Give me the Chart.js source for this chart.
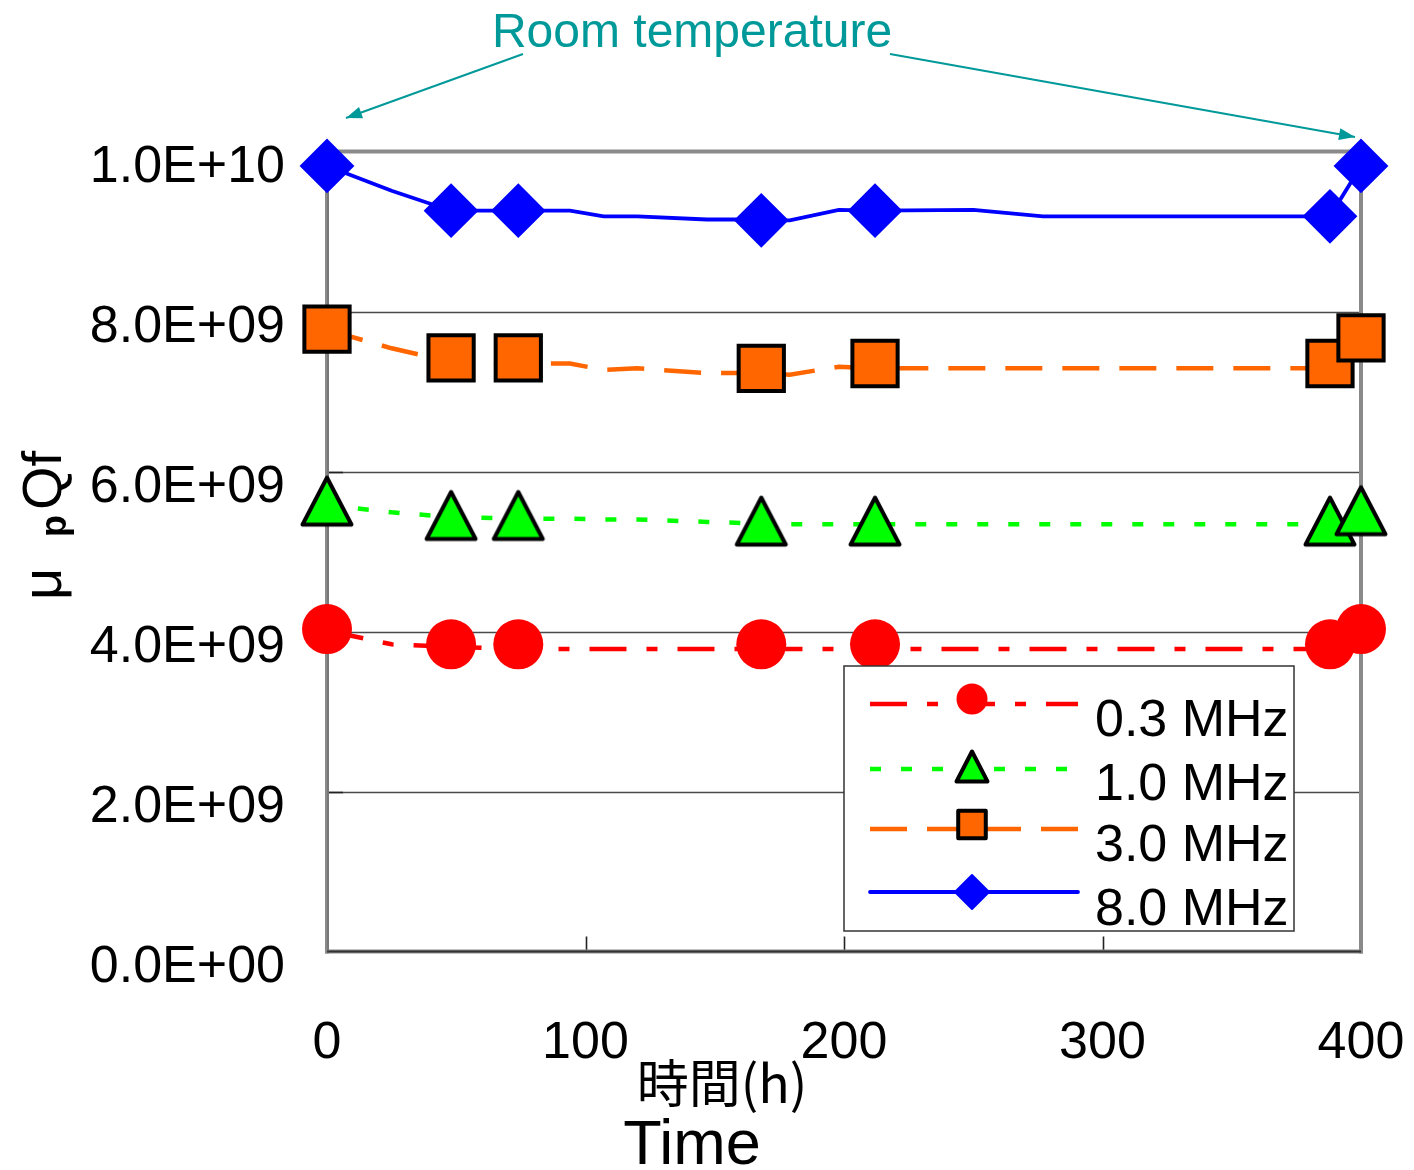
<!DOCTYPE html>
<html lang="ja">
<head>
<meta charset="utf-8">
<title>μpQf – Time</title>
<script src="https://cdn.jsdelivr.net/npm/chart.js@4.4.1/dist/chart.umd.min.js"></script>
<style>
  html, body { margin: 0; padding: 0; background: #ffffff; }
  #chart { display: block; }
</style>
</head>
<body>
<canvas id="chart" width="1414" height="1170"></canvas>
<script>
// ---------------- data ----------------
const seriesLabels = ['0.3 MHz', '1.0 MHz', '3.0 MHz', '8.0 MHz'];

// hours where the connecting lines bend
const lineHours = [0, 25, 48, 73, 94, 107, 120, 147, 158, 168, 179, 198, 212, 250, 277, 388, 400];
// line values, units of 1e9
const line03 = [4.01, 3.84, 3.81, 3.78, 3.78, 3.78, 3.78, 3.78, 3.78, 3.78, 3.78, 3.78, 3.78, 3.78, 3.78, 3.78, 4.01];
const line10 = [5.58, 5.49, 5.43, 5.41, 5.41, 5.40, 5.40, 5.37, 5.36, 5.34, 5.34, 5.34, 5.34, 5.34, 5.34, 5.34, 5.51];
const line30 = [7.77, 7.54, 7.37, 7.35, 7.35, 7.27, 7.29, 7.23, 7.23, 7.23, 7.21, 7.31, 7.29, 7.29, 7.29, 7.29, 7.64];
const line80 = [9.82, 9.51, 9.26, 9.26, 9.26, 9.19, 9.19, 9.15, 9.15, 9.14, 9.14, 9.27, 9.26, 9.27, 9.19, 9.19, 9.82];

// measured points drawn with markers, units of 1e9
const markerHours = [0, 48, 74, 168, 212, 388, 400];
const mark03 = [4.03, 3.84, 3.84, 3.84, 3.84, 3.84, 4.03];
const mark10 = [5.63, 5.45, 5.45, 5.38, 5.38, 5.38, 5.51];
const mark30 = [7.78, 7.42, 7.42, 7.29, 7.35, 7.35, 7.67];
const mark80 = [9.82, 9.26, 9.26, 9.14, 9.26, 9.19, 9.82];

const xTickValues = [0, 100, 200, 300, 400];
const yTickValues = [0, 2, 4, 6, 8, 10]; // units of 1e9

const annotationText = 'Room temperature';
const xTitleJa = '時間(h)';
const xTitleEn = 'Time';
const E9 = 1e9;

// ---------------- styles ----------------
const FONT = "'Liberation Sans', Arial, sans-serif";
const CJK = "'Noto Sans CJK JP', 'Noto Sans CJK SC', sans-serif";
Chart.defaults.font.family = FONT;
Chart.defaults.color = '#000';

const RED = '#ff0000', GREEN = '#00ff00', ORANGE = '#ff6600', BLUE = '#0000ff', TEAL = '#009999';

function trianglePath(g, cx, cy, w, h) {
  g.beginPath();
  g.moveTo(cx, cy - h / 2);
  g.lineTo(cx + w / 2, cy + h / 2);
  g.lineTo(cx - w / 2, cy + h / 2);
  g.closePath();
}
function drawTriangle(g, cx, cy, w, h, lw) {
  trianglePath(g, cx, cy, w, h);
  g.fillStyle = GREEN;
  g.fill();
  g.lineWidth = lw;
  g.lineJoin = 'round';
  g.strokeStyle = '#000';
  g.stroke();
}
// triangle marker as an image so it is centred on its bounding box
const triImg = (() => {
  const c = document.createElement('canvas');
  c.width = 60; c.height = 58;
  drawTriangle(c.getContext('2d'), 30, 29, 49, 47, 4);
  return c;
})();

const series = [
  { label: seriesLabels[0], line: line03, marks: mark03, color: RED, dash: [37, 20, 11, 20], lw: 4.5,
    pointStyle: 'circle', radius: 25, fill: RED, border: RED, bw: 0 },
  { label: seriesLabels[1], line: line10, marks: mark10, color: GREEN, dash: [11, 20], lw: 4.5,
    pointStyle: triImg, radius: 26, fill: GREEN, border: '#000', bw: 4 },
  { label: seriesLabels[2], line: line30, marks: mark30, color: ORANGE, dash: [37, 20], lw: 4.5,
    pointStyle: 'rect', radius: 32, fill: ORANGE, border: '#000', bw: 4 },
  { label: seriesLabels[3], line: line80, marks: mark80, color: BLUE, dash: [], lw: 3.8,
    pointStyle: 'rectRot', radius: 26, fill: BLUE, border: BLUE, bw: 2 }
];

const datasets = [];
series.forEach(s => {
  datasets.push({
    label: s.label,
    data: lineHours.map((h, i) => ({ x: h, y: s.line[i] * E9 })),
    showLine: true,
    pointRadius: 0,
    borderColor: s.color,
    borderWidth: s.lw,
    borderDash: s.dash,
    borderCapStyle: 'butt',
    borderJoinStyle: 'miter',
    tension: 0,
    clip: false,
    order: 2
  });
  datasets.push({
    label: s.label + ' markers',
    data: markerHours.map((h, i) => ({ x: h, y: s.marks[i] * E9 })),
    showLine: false,
    pointStyle: s.pointStyle,
    pointRadius: s.radius,
    pointHoverRadius: s.radius,
    pointBackgroundColor: s.fill,
    pointBorderColor: s.border,
    pointBorderWidth: s.bw,
    clip: false,
    order: 1
  });
});

function sciLabel(v) {
  if (v === 0) return '0.0E+00';
  const e = Math.floor(Math.log10(v) + 1e-9);
  const m = v / Math.pow(10, e);
  return m.toFixed(1) + 'E+' + String(e).padStart(2, '0');
}

// axes frame, gridlines and inner tick marks
const framePlugin = {
  id: 'frame',
  beforeDatasetsDraw(chart) {
    const { ctx, chartArea: a, scales: { x, y } } = chart;
    ctx.save();
    // gridlines
    ctx.strokeStyle = '#4a4a4a';
    ctx.lineWidth = 1.4;
    yTickValues.slice(1, -1).forEach(v => {
      const py = Math.round(y.getPixelForValue(v * E9)) + 0.5;
      ctx.beginPath(); ctx.moveTo(a.left, py); ctx.lineTo(a.right, py); ctx.stroke();
    });
    // inner tick marks
    ctx.strokeStyle = '#222';
    ctx.lineWidth = 1.6;
    yTickValues.slice(1, -1).forEach(v => {
      const py = Math.round(y.getPixelForValue(v * E9)) + 0.5;
      ctx.beginPath(); ctx.moveTo(a.left, py); ctx.lineTo(a.left + 16, py); ctx.stroke();
    });
    xTickValues.slice(1, -1).forEach(v => {
      const px = Math.round(x.getPixelForValue(v)) + 0.5;
      ctx.beginPath(); ctx.moveTo(px, a.bottom); ctx.lineTo(px, a.bottom - 15); ctx.stroke();
    });
    // frame
    ctx.strokeStyle = '#8a8a8a';
    ctx.lineWidth = 4;
    ctx.lineCap = 'square';
    ctx.beginPath();
    ctx.moveTo(a.left, a.bottom);
    ctx.lineTo(a.left, a.top);
    ctx.lineTo(a.right, a.top);
    ctx.lineTo(a.right, a.bottom);
    ctx.stroke();
    ctx.beginPath(); ctx.moveTo(a.left, a.bottom); ctx.lineTo(a.right, a.bottom); ctx.stroke();
    ctx.strokeStyle = '#333';
    ctx.lineWidth = 2;
    ctx.lineCap = 'butt';
    ctx.beginPath(); ctx.moveTo(a.left, a.bottom); ctx.lineTo(a.right, a.bottom); ctx.stroke();
    ctx.strokeStyle = '#666';
    ctx.lineWidth = 1;
    ctx.beginPath(); ctx.moveTo(a.left + 1, a.top); ctx.lineTo(a.left + 1, a.bottom); ctx.stroke();
    ctx.restore();
  }
};

function arrow(ctx, x1, y1, x2, y2) {
  ctx.beginPath(); ctx.moveTo(x1, y1); ctx.lineTo(x2, y2); ctx.stroke();
  const ang = Math.atan2(y2 - y1, x2 - x1), L = 16, W = 6;
  ctx.beginPath();
  ctx.moveTo(x2, y2);
  ctx.lineTo(x2 - L * Math.cos(ang) + W * Math.sin(ang), y2 - L * Math.sin(ang) - W * Math.cos(ang));
  ctx.lineTo(x2 - L * Math.cos(ang) - W * Math.sin(ang), y2 - L * Math.sin(ang) + W * Math.cos(ang));
  ctx.closePath();
  ctx.fill();
}

// legend box, axis titles and the annotation
const overlayPlugin = {
  id: 'overlay',
  afterDraw(chart) {
    const ctx = chart.ctx;
    ctx.save();

    // legend
    const box = { x: 844, y: 666, w: 450, h: 265 };
    ctx.fillStyle = '#fff';
    ctx.fillRect(box.x, box.y, box.w, box.h);
    ctx.strokeStyle = '#333';
    ctx.lineWidth = 1.5;
    ctx.strokeRect(box.x, box.y, box.w, box.h);

    const rows = [
      { lineY: 704, markY: 699, textY: 736 },
      { lineY: 769, markY: 766.5, textY: 800 },
      { lineY: 829, markY: 824.5, textY: 861 },
      { lineY: 892, markY: 892, textY: 925 }
    ];
    const lx1 = 870, lx2 = 1078, mx = 972;
    series.forEach((s, i) => {
      const r = rows[i];
      ctx.save();
      ctx.strokeStyle = s.color;
      ctx.lineWidth = s.lw;
      ctx.setLineDash(s.dash);
      ctx.lineCap = s.dash.length ? 'butt' : 'round';
      ctx.beginPath(); ctx.moveTo(lx1, r.lineY); ctx.lineTo(lx2, r.lineY); ctx.stroke();
      ctx.restore();
      if (i === 1) {
        drawTriangle(ctx, mx, r.markY, 31, 30, 4);
      } else {
        const opts = {
          pointStyle: s.pointStyle,
          radius: i === 0 ? 15.5 : i === 2 ? 19.5 : 17,
          borderWidth: s.bw
        };
        ctx.fillStyle = s.fill;
        ctx.strokeStyle = s.border;
        ctx.lineWidth = s.bw;
        Chart.helpers.drawPoint(ctx, opts, mx, r.markY);
      }
      ctx.fillStyle = '#000';
      ctx.font = '52px ' + FONT;
      ctx.textAlign = 'left';
      ctx.textBaseline = 'alphabetic';
      ctx.fillText(s.label, 1095, r.textY);
    });

    // x-axis titles
    ctx.fillStyle = '#000';
    ctx.textAlign = 'center';
    ctx.textBaseline = 'alphabetic';
    ctx.font = '52px ' + CJK;
    ctx.fillText(xTitleJa, 722, 1103);
    ctx.font = '63px ' + FONT;
    ctx.fillText(xTitleEn, 692, 1164);

    // y-axis title: μ, subscript p, Qf (rotated)
    ctx.save();
    ctx.translate(61, 600);
    ctx.rotate(-Math.PI / 2);
    ctx.textAlign = 'left';
    ctx.font = '56px ' + FONT;
    ctx.fillText('μ', 0, 0);
    ctx.font = 'bold 36px ' + FONT;
    ctx.fillText('p', 63, 4.5);
    ctx.font = '56px ' + FONT;
    ctx.fillText('Qf', 90, 0);
    ctx.restore();

    // annotation
    ctx.fillStyle = TEAL;
    ctx.strokeStyle = TEAL;
    ctx.lineWidth = 2;
    ctx.font = '48px ' + FONT;
    ctx.textAlign = 'center';
    ctx.fillText(annotationText, 692, 47);
    arrow(ctx, 523, 54, 346, 118);
    arrow(ctx, 890, 54, 1355, 137);

    ctx.restore();
  }
};

const chart = new Chart(document.getElementById('chart'), {
  type: 'scatter',
  data: { datasets },
  options: {
    responsive: false,
    animation: false,
    devicePixelRatio: 1,
    events: [],
    layout: { padding: { left: 0, top: 151.5, right: 53, bottom: 0 } },
    plugins: { legend: { display: false }, tooltip: { enabled: false } },
    scales: {
      x: {
        type: 'linear',
        min: 0, max: 400,
        afterBuildTicks: s => { s.ticks = xTickValues.map(v => ({ value: v })); },
        grid: { display: false, drawTicks: false },
        border: { display: false },
        ticks: { font: { size: 52, family: FONT }, color: '#000', padding: 61, maxRotation: 0, autoSkip: false },
        afterFit: s => { s.height = 218.5; s.paddingLeft = 0; s.paddingRight = 0; }
      },
      y: {
        type: 'linear',
        min: 0, max: 10 * E9,
        afterBuildTicks: s => { s.ticks = yTickValues.map(v => ({ value: v * E9 })); },
        grid: { display: false, drawTicks: false },
        border: { display: false },
        ticks: { font: { size: 52, family: FONT }, color: '#000', padding: 42, labelOffset: 16,
                 autoSkip: false, callback: v => sciLabel(v) },
        afterFit: s => { s.width = 327; s.paddingTop = 0; s.paddingBottom = 0; }
      }
    }
  },
  plugins: [framePlugin, overlayPlugin]
});
</script>
</body>
</html>
